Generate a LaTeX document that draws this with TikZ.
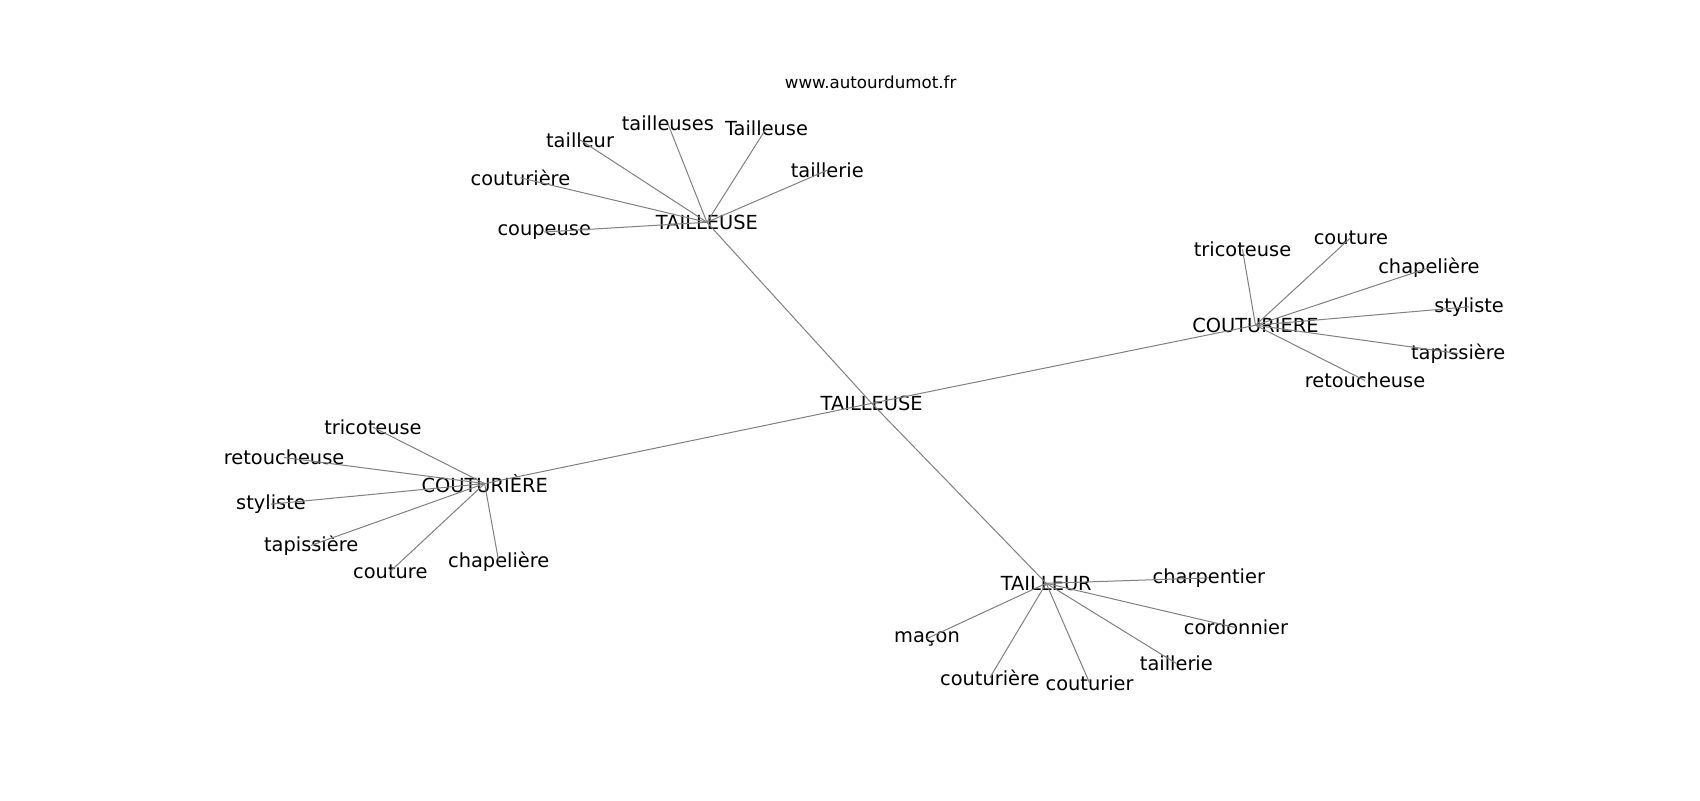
\documentclass[tikz,border=0pt]{standalone}
\usepackage{fontspec}
\setmainfont{DejaVu Sans}
\begin{document}
\begin{tikzpicture}[x=1.0842pt,y=-1.0842pt,
  lbl/.style={inner sep=0pt,anchor=center,text=black,font=\fontsize{19.4}{23}\selectfont},
  site/.style={inner sep=0pt,anchor=center,text=black,font=\fontsize{16.67}{20}\selectfont},
  edge/.style={draw=black!50,line width=1pt}]
\useasboundingbox[fill=white] (0,0) rectangle (1568,738);
\node[site] (web) at (803,76) {www.autourdumot.fr};
% centre
\node[lbl] (c) at (804,372) {TAILLEUSE};
% top cluster
\node[lbl] (t) at (652,205) {TAILLEUSE};
\node[lbl] (t1) at (502,214) {coupeuse};
\node[lbl] (t2) at (480,164) {couturière};
\node[lbl] (t3) at (535,129) {tailleur};
\node[lbl] (t4) at (616,114) {tailleuses};
\node[lbl] (t5) at (707,118) {Tailleuse};
\node[lbl] (t6) at (763,157) {taillerie};
% right cluster
\node[lbl] (r) at (1158,300) {COUTURIERE};
\node[lbl] (r1) at (1146,230) {tricoteuse};
\node[lbl] (r2) at (1246,219) {couture};
\node[lbl] (r3) at (1318,247) {chapelière};
\node[lbl] (r4) at (1355,283) {styliste};
\node[lbl] (r5) at (1345,326) {tapissière};
\node[lbl] (r6) at (1259,351) {retoucheuse};
% left cluster
\node[lbl] (l) at (447,446) {COUTURIÈRE};
\node[lbl] (l1) at (344,394) {tricoteuse};
\node[lbl] (l2) at (262,422) {retoucheuse};
\node[lbl] (l3) at (250,465) {styliste};
\node[lbl] (l4) at (287,503) {tapissière};
\node[lbl] (l5) at (360,527) {couture};
\node[lbl] (l6) at (460,518) {chapelière};
% bottom cluster
\node[lbl] (b) at (965,538) {TAILLEUR};
\node[lbl] (b1) at (1115,533) {charpentier};
\node[lbl] (b2) at (1140,579) {cordonnier};
\node[lbl] (b3) at (1085,612) {taillerie};
\node[lbl] (b4) at (1005,630) {couturier};
\node[lbl] (b5) at (913,625) {couturière};
\node[lbl] (b6) at (855,589) {maçon};
\foreach \h in {t,r,l,b} \draw[edge] (c.center) -- (\h.center);
\foreach \s in {1,...,6} {
  \draw[edge] (t.center) -- (t\s.center);
  \draw[edge] (r.center) -- (r\s.center);
  \draw[edge] (l.center) -- (l\s.center);
  \draw[edge] (b.center) -- (b\s.center);
}
\end{tikzpicture}
\end{document}
